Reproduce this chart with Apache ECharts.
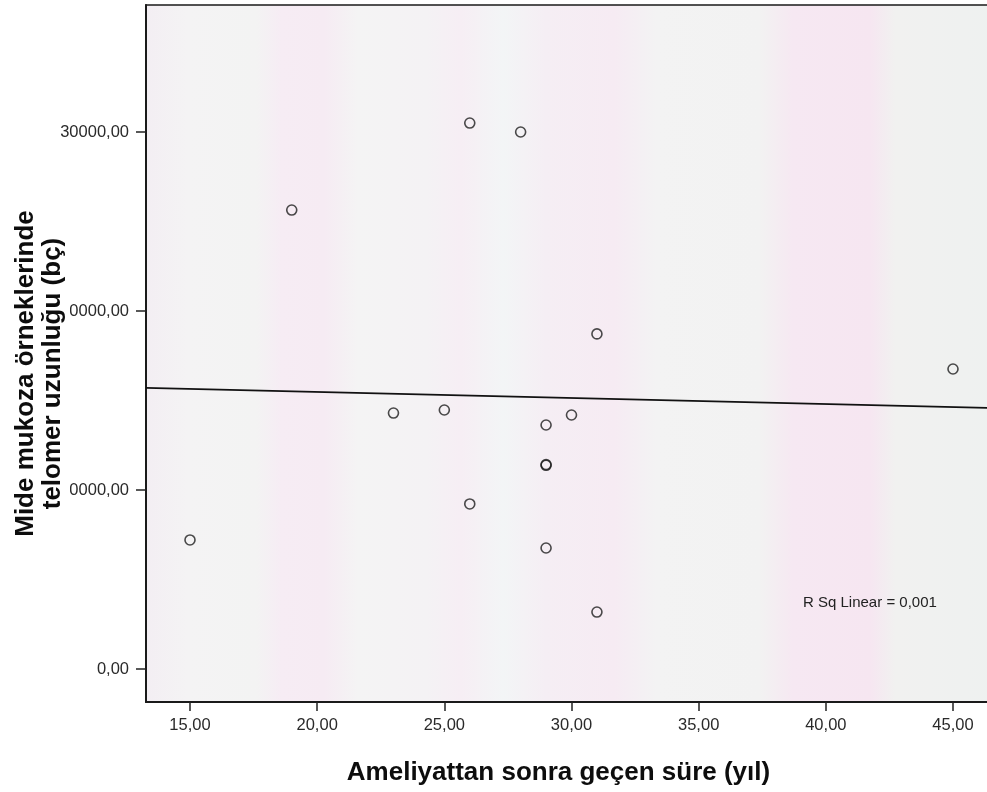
<!DOCTYPE html>
<html>
<head>
<meta charset="utf-8">
<script src="https://cdn.jsdelivr.net/npm/echarts@6/dist/echarts.min.js"></script>
<style>
  html, body { margin: 0; padding: 0; background: #ffffff; }
  #chart { width: 987px; height: 792px; }
</style>
</head>
<body>
<div id="chart"></div>
<script>
// Data
const xValues = [19, 15, 26, 28, 31, 23, 25, 29, 30, 29, 29, 26, 29, 31, 45];
const yValues = [25640, 7210, 30500, 30000, 18720, 14300, 14470, 13630, 14190, 11420, 11380, 9220, 6760, 3180, 16760];
// Fit line endpoints (as drawn across the plot)
const fitX = [13.27, 46.73];
const fitY = [15700, 14570];
const xTicks = [15, 20, 25, 30, 35, 40, 45];
const yTicks = [0, 10000, 20000, 30000];
const xTitle = 'Ameliyattan sonra geçen süre (yıl)';
const yTitle = 'Mide mukoza örneklerinde\ntelomer uzunluğu (bç)';
const rsqText = 'R Sq Linear = 0,001';

const fmt = v => Number(v).toFixed(2).replace('.', ',');
const yMin = -1844, yMax = 37095;

const chart = echarts.init(document.getElementById('chart'), null, { renderer: 'canvas' });
chart.setOption({
  backgroundColor: '#ffffff',
  animation: false,
  textStyle: { fontFamily: 'Liberation Sans, Arial, sans-serif' },
  grid: {
    left: 146, top: 5, right: -10, bottom: 90,
    containLabel: false,
    outerBoundsMode: 'none',
    show: true,
    borderColor: '#1a1a1a',
    borderWidth: 1.5,
    backgroundColor: {
      type: 'linear', x: 0, y: 0, x2: 1, y2: 0,
      colorStops: [
        { offset: 0.00, color: '#f3eef3' },
        { offset: 0.05, color: '#f4f3f4' },
        { offset: 0.13, color: '#f3f3f3' },
        { offset: 0.16, color: '#f6ecf4' },
        { offset: 0.21, color: '#f6ebf3' },
        { offset: 0.25, color: '#f4f4f4' },
        { offset: 0.33, color: '#f4f2f4' },
        { offset: 0.37, color: '#f6eef4' },
        { offset: 0.42, color: '#f3f5f6' },
        { offset: 0.47, color: '#f5eef4' },
        { offset: 0.55, color: '#f6ebf3' },
        { offset: 0.60, color: '#f3f3f3' },
        { offset: 0.72, color: '#f2f2f2' },
        { offset: 0.76, color: '#f6e8f2' },
        { offset: 0.85, color: '#f6e6f1' },
        { offset: 0.88, color: '#f1f1f0' },
        { offset: 1.00, color: '#eef1f0' }
      ]
    }
  },
  xAxis: {
    type: 'value',
    min: 13.27,
    max: 46.73,
    splitLine: { show: false },
    axisLine: { show: true, onZero: false, lineStyle: { color: '#1a1a1a', width: 2 } },
    axisTick: { show: true, length: 9, customValues: xTicks, lineStyle: { color: '#222', width: 1.5 } },
    axisLabel: { customValues: xTicks, formatter: fmt, fontSize: 16.5, color: '#2a2a2a', margin: 15 },
    name: xTitle,
    nameLocation: 'middle',
    nameGap: 58,
    nameMoveOverlap: false,
    nameTextStyle: { fontSize: 26, fontWeight: 'bold', color: '#0d0d0d', padding: [0, 26, 0, 0] }
  },
  yAxis: [
    {
      type: 'value',
      min: yMin,
      max: yMax,
      z: 0,
      splitLine: { show: false },
      axisLine: { show: true, onZero: false, lineStyle: { color: '#1a1a1a', width: 2 } },
      axisTick: { show: true, length: 10, customValues: yTicks, lineStyle: { color: '#222', width: 1.5 } },
      axisLabel: { customValues: yTicks, formatter: fmt, fontSize: 16.5, color: '#2a2a2a', margin: 17 }
    },
    {
      type: 'value',
      position: 'left',
      offset: 0,
      min: yMin,
      max: yMax,
      z: 10,
      splitLine: { show: false },
      axisLine: { show: false },
      axisTick: { show: false },
      axisLabel: { show: false },
      name: yTitle,
      nameLocation: 'middle',
      nameRotate: 90,
      nameGap: 76,
      nameMoveOverlap: false,
      nameTextStyle: {
        fontSize: 26, fontWeight: 'bold', color: '#0d0d0d', lineHeight: 27, align: 'center',
        padding: [0, 40, 4, 0], backgroundColor: '#ffffff'
      }
    }
  ],
  graphic: [{
    type: 'text',
    left: 803,
    top: 595,
    style: { text: rsqText, fontSize: 15, fill: '#222', fontFamily: 'Liberation Sans, Arial, sans-serif' }
  }],
  series: [
    {
      type: 'line',
      data: fitX.map((x, i) => [x, fitY[i]]),
      symbol: 'none',
      lineStyle: { color: '#111', width: 1.8 },
      silent: true,
      z: 2
    },
    {
      type: 'scatter',
      data: xValues.map((x, i) => [x, yValues[i]]),
      symbol: 'circle',
      symbolSize: 10,
      itemStyle: { color: 'rgba(255,255,255,0)', borderColor: '#1e1e1e', borderWidth: 1.6 },
      z: 3
    }
  ]
});
</script>
</body>
</html>
